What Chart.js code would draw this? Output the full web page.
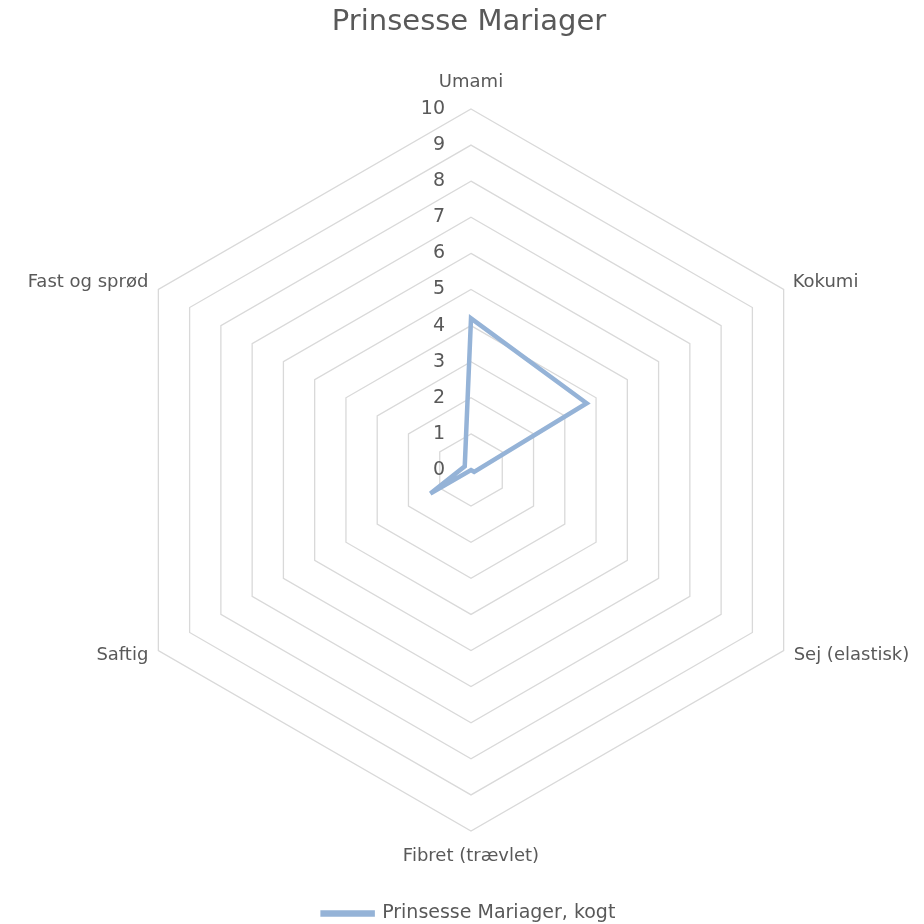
<!DOCTYPE html>
<html>
<head>
<meta charset="utf-8">
<script src="https://cdn.jsdelivr.net/npm/chart.js@4"></script>
<style>
html,body{margin:0;padding:0;background:#fff;}
#wrap{width:924px;height:924px;position:relative;}
</style>
</head>
<body>
<div id="wrap"><canvas id="c" width="924" height="924"></canvas></div>
<script>
const categories = ['Umami', 'Kokumi', 'Sej (elastisk)', 'Fibret (trævlet)', 'Saftig', 'Fast og sprød'];
const seriesName = 'Prinsesse Mariager, kogt';
const seriesValues = [4.2, 3.7, 0.1, 0, 1.3, 0.2];
const tickLabels = ['0','1','2','3','4','5','6','7','8','9','10'];
const titleText = 'Prinsesse Mariager';

const FONT = '"DejaVu Sans", sans-serif';
const TEXT = '#595959';

// draws tick labels to the left of the vertical axis and the category labels
// in Excel-like positions, using the radial scale for every position
const labelPlugin = {
  id: 'excelLabels',
  afterDatasetsDraw(chart) {
    const s = chart.scales.r;
    const ctx = chart.ctx;
    ctx.save();
    ctx.fillStyle = TEXT;
    ctx.textBaseline = 'middle';
    ctx.font = '19px ' + FONT;
    ctx.textAlign = 'right';
    s.ticks.forEach((t, i) => {
      const d = s.getDistanceFromCenterForValue(t.value);
      ctx.fillText(tickLabels[i] ?? String(t.value), s.xCenter - 26, s.yCenter - d);
    });
    ctx.font = '18px ' + FONT;
    const offs = [
      {dx: 0, dy: -27, align: 'center'},
      {dx: 9, dy: -7, align: 'left'},
      {dx: 10, dy: 5, align: 'left'},
      {dx: 0, dy: 25, align: 'center'},
      {dx: -10, dy: 5, align: 'right'},
      {dx: -10, dy: -7, align: 'right'}
    ];
    categories.forEach((lab, i) => {
      const p = s.getPointPosition(i, s.drawingArea);
      const o = offs[i];
      ctx.textAlign = o.align;
      ctx.fillText(lab, p.x + o.dx, p.y + o.dy);
    });
    ctx.restore();
  }
};

new Chart(document.getElementById('c'), {
  type: 'radar',
  data: {
    labels: categories,
    datasets: [{
      label: seriesName,
      data: seriesValues,
      borderColor: '#95b3d7',
      backgroundColor: '#95b3d7',
      fill: false,
      borderWidth: 4.5,
      pointRadius: 0,
      pointHoverRadius: 0,
      tension: 0
    }]
  },
  options: {
    responsive: false,
    animation: false,
    devicePixelRatio: 1,
    layout: { padding: { top: 0, bottom: -9, left: 27, right: 13 } },
    scales: {
      r: {
        min: 0, max: 10,
        ticks: { stepSize: 1, display: false },
        grid: { color: '#d9d9d9', lineWidth: 1.3 },
        angleLines: { display: false },
        pointLabels: { color: 'rgba(0,0,0,0)', font: { family: FONT, size: 18 }, padding: 10 }
      }
    },
    plugins: {
      title: { display: true, text: titleText, color: TEXT, font: { family: FONT, size: 29, weight: 'normal' }, padding: { top: 5, bottom: 0 } },
      legend: {
        position: 'bottom',
        labels: { color: TEXT, font: { family: FONT, size: 19 }, boxWidth: 50, boxHeight: 2, padding: 3 }
      },
      tooltip: { enabled: false }
    }
  },
  plugins: [labelPlugin]
});
</script>
</body>
</html>
